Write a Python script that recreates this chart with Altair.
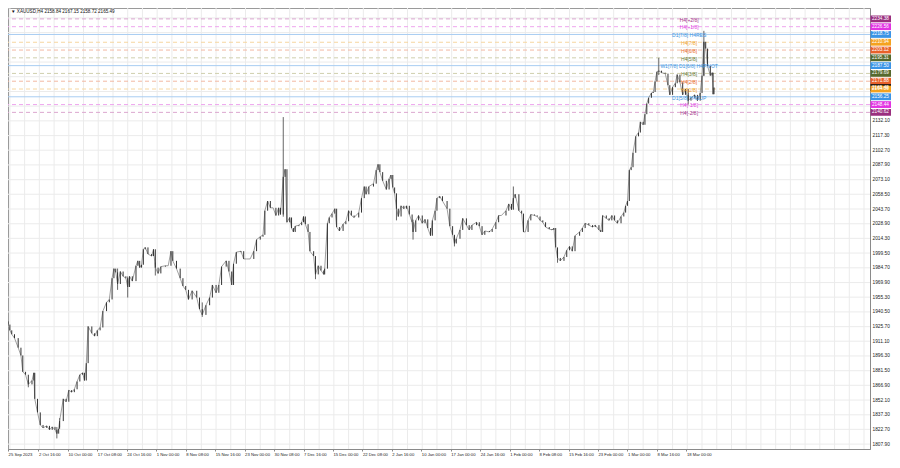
import json
import altair as alt
import pandas as pd

# ---------------- data ----------------
symbol = "XAUUSD,H4"
quote_ohlc = [2158.84, 2167.15, 2158.72, 2165.49]

# H4 bar index (0 = 25 Sep 2023 00:00) and close
bar = [1, 3, 5, 8, 12, 15, 17, 20, 23, 27, 29, 30, 33, 36, 39, 43, 46, 49, 52, 54, 56, 57,
       61, 64, 67, 70, 73, 76, 79, 82, 84, 86, 88, 92, 95, 98, 101, 104, 108, 111, 114, 116,
       118, 120, 123, 126, 129, 131, 133, 136, 140, 142, 144, 146, 148, 150, 153, 157, 159,
       161, 164, 167, 172, 175, 178, 180, 184, 188, 191, 194, 197, 201, 206, 209, 212, 216,
       220, 223, 227, 230, 233, 238, 241, 244, 246, 249, 254, 257, 260, 264, 268, 271, 275,
       278, 280, 283, 286, 289, 292, 295, 297, 300, 302, 304, 307, 309, 311, 313, 317, 320,
       322, 324, 327, 329, 333, 335, 338, 341, 344, 345, 348, 350, 353, 356, 358, 361, 365,
       368, 371, 374, 377, 382, 385, 388, 390, 393, 398, 401, 403, 405, 408, 412, 415, 417,
       419, 421, 423, 425, 428, 431, 434, 437, 440, 441, 444, 447, 451, 454, 457, 460, 462,
       465, 467, 470, 473, 478, 481, 484, 486, 488, 492, 495, 499, 502, 505, 510, 513, 516,
       519, 524, 527, 531, 534, 537, 542, 545, 548, 550, 552, 556, 559, 561, 563, 566, 569,
       573, 576, 579, 582, 585, 589, 592, 594, 596, 598, 601, 605, 608, 611, 614, 617, 622,
       625, 628, 632, 636, 639, 643, 645, 647, 651, 654, 657, 660, 663, 667, 670, 672, 674,
       676, 678, 680, 683, 686, 688, 691, 693, 695, 697, 700, 702, 704, 706, 708, 711, 715,
       718, 720, 723, 726, 728, 731, 734, 737, 740, 743, 747, 750, 753, 755, 757, 759, 761,
       764, 766, 767, 768]
close = [1927.8, 1922.0, 1918.1, 1914.2, 1904.6, 1896.8, 1880.4, 1877.5, 1867.8, 1871.7, 1879.4,
         1853.3, 1839.7, 1827.1, 1824.2, 1826.2, 1822.3, 1825.2, 1822.3, 1818.4, 1823.3, 1831.0,
         1853.3, 1850.4, 1862.0, 1860.0, 1862.9, 1870.7, 1877.5, 1879.4, 1871.7, 1889.1, 1925.9,
         1919.1, 1916.2, 1922.0, 1924.9, 1941.3, 1950.1, 1953.0, 1974.3, 1983.9, 1980.1, 1968.5,
         1981.0, 1976.2, 1974.3, 1965.5, 1976.2, 1971.4, 1986.8, 1991.7, 1984.9, 1987.8, 2003.3,
         2005.2, 1998.5, 1996.5, 2003.3, 1984.9, 1979.1, 1985.9, 1986.8, 1986.8, 2001.4, 1991.7,
         1983.9, 1974.3, 1966.5, 1962.6, 1953.0, 1961.7, 1954.9, 1943.3, 1937.5, 1947.2, 1954.9,
         1967.5, 1959.7, 1967.5, 1985.9, 1991.7, 1981.0, 1967.5, 1988.8, 2000.4, 2001.4, 1993.6,
         1993.6, 1993.6, 2001.4, 2013.0, 2015.9, 2017.8, 2042.0, 2051.7, 2044.9, 2044.9, 2037.2,
         2044.9, 2038.2, 2075.9, 2083.6, 2030.4, 2035.2, 2024.6, 2020.7, 2026.5, 2027.5, 2030.4,
         2036.2, 2028.5, 2020.7, 2001.4, 1996.5, 1978.1, 1986.8, 1982.0, 1978.1, 1983.9, 2029.4,
         2035.2, 2039.1, 2044.0, 2025.6, 2021.7, 2028.5, 2031.4, 2042.0, 2037.2, 2035.2, 2040.1,
         2054.6, 2066.2, 2058.5, 2066.2, 2069.1, 2082.7, 2088.5, 2080.7, 2072.0, 2063.3, 2074.0,
         2077.8, 2065.3, 2059.4, 2044.0, 2036.2, 2046.9, 2044.0, 2046.9, 2038.2, 2030.4, 2020.7,
         2032.3, 2037.2, 2029.4, 2033.3, 2024.6, 2016.9, 2032.3, 2042.0, 2054.6, 2056.5, 2051.7,
         2044.0, 2026.5, 2017.8, 2009.1, 2013.9, 2022.7, 2034.3, 2027.5, 2022.7, 2027.5, 2030.4,
         2026.5, 2017.8, 2021.7, 2020.7, 2023.6, 2030.4, 2037.2, 2037.2, 2042.0, 2048.8, 2043.0,
         2054.6, 2058.5, 2042.0, 2039.1, 2020.7, 2020.7, 2032.3, 2038.2, 2037.2, 2036.2, 2032.3,
         2030.4, 2025.6, 2023.6, 2022.7, 2024.6, 2005.2, 1994.6, 1991.7, 1995.6, 2002.3, 2006.2,
         2001.4, 2016.9, 2020.7, 2024.6, 2029.4, 2027.5, 2025.6, 2027.5, 2022.7, 2020.7, 2037.2,
         2034.3, 2032.3, 2037.2, 2032.3, 2029.4, 2036.2, 2040.1, 2046.9, 2051.7, 2082.7, 2085.6,
         2100.1, 2116.6, 2120.4, 2131.1, 2128.2, 2138.8, 2149.5, 2155.3, 2160.1, 2161.1, 2171.7,
         2181.4, 2182.4, 2180.4, 2179.5, 2167.9, 2158.2, 2165.9, 2169.8, 2178.5, 2170.8, 2158.2,
         2164.0, 2152.4, 2155.3, 2158.2, 2152.4, 2160.1, 2177.5, 2211.4, 2204.6, 2187.2, 2177.5,
         2180.4, 2158.84, 2165.49]
first_open = 1931.0

# visible long wicks
wick_bar = [23, 54, 57, 120, 131, 161, 212, 300, 335, 423, 441, 486, 550, 598, 708, 740, 757]
wick_low = [1864.9, 1813.6, 1825.0, 1962.6, 1954.9, 1977.0, 1935.5, 2036.0, 1973.3, 2032.3,
            2013.0, 2006.2, 2050.0, 1989.8, 2178.0, 2148.4, 2177.0]
wick_high = [1872.0, 1825.0, 1834.0, 1984.0, 1976.0, 1990.0, 1950.0, 2135.9, 1990.0, 2046.0,
             2033.0, 2017.0, 2066.3, 2000.0, 2195.3, 2158.0, 2222.4]

# time axis
first_label = "25 Sep 2023"
tick_bars = [34, 66, 98, 130, 162, 194, 226, 258, 290, 322, 354, 386, 418, 450, 482, 514,
             546, 578, 610, 642, 674, 706, 738]
tick_labels = ["2 Oct 16:00", "10 Oct 00:00", "17 Oct 08:00", "24 Oct 16:00", "1 Nov 00:00",
               "8 Nov 08:00", "15 Nov 16:00", "23 Nov 00:00", "30 Nov 08:00", "7 Dec 16:00",
               "15 Dec 00:00", "22 Dec 08:00", "2 Jan 16:00", "10 Jan 00:00", "17 Jan 00:00",
               "24 Jan 16:00", "1 Feb 00:00", "8 Feb 08:00", "15 Feb 16:00", "23 Feb 00:00",
               "1 Mar 00:00", "8 Mar 16:00", "18 Mar 00:00"]

# price axis
price_labels = [2132.10, 2117.30, 2102.70, 2087.90, 2073.10, 2058.50, 2043.70, 2028.90,
                2014.30, 1999.50, 1984.70, 1969.90, 1955.30, 1940.50, 1925.70, 1911.10,
                1896.30, 1881.50, 1866.90, 1852.10, 1837.30, 1822.70, 1807.90]
grid_extra = [2146.9, 2161.6, 2176.4, 2191.1, 2205.8, 2220.6, 2235.3]

# Murrey-math levels
level_price = [2234.38, 2226.56, 2218.75, 2210.94, 2203.12, 2195.31, 2187.50, 2179.69,
               2171.88, 2164.06, 2156.25, 2148.44, 2140.62]
level_name = ["H4[+2/8]", "H4[+1/8]", "D1[7/8] H4RES", "H4[7/8]", "H4[6/8]", "H4[5/8]",
              "W1[7/8] D1[6/8] H4PIVOT", "H4[3/8]", "H4[2/8]", "H4[1/8]", "D1[5/8] H4SUP",
              "H4[-1/8]", "H4[-2/8]"]
level_kind = ["dash", "dash", "solid", "dash", "dash", "dash", "solid", "dash", "dash",
              "dash", "solid", "dash", "dash"]
level_text_color = ["#a3338a", "#e03ee0", "#3d94e0", "#f0a12a", "#e8682c", "#64742f",
                    "#3d94e0", "#64742f", "#e8682c", "#f0a12a", "#3d94e0", "#e03ee0", "#a3338a"]
level_line_color = ["#dba6cf", "#eea6ee", "#a9cdf2", "#f6d6a0", "#f2b9a2", "#cfcfad",
                    "#a9cdf2", "#cfcfad", "#f2b9a2", "#f6d6a0", "#a9cdf2", "#eea6ee", "#dba6cf"]
level_box_color = ["#9a2f7f", "#e233e2", "#3b94e6", "#f5a21f", "#e8612a", "#55692d",
                   "#3b94e6", "#55692d", "#e8612a", "#f5a21f", "#3b94e6", "#e233e2", "#9a2f7f"]
current_price = 2165.49

# ---------------- frames ----------------
candles = pd.DataFrame({"bar": bar, "close": close})
candles["open"] = candles["close"].shift(1).fillna(first_open)
wicks = pd.DataFrame({"bar": wick_bar, "low": wick_low, "high": wick_high})

levels = pd.DataFrame({"p": level_price, "name": level_name, "kind": level_kind,
                       "tc": level_text_color, "lc": level_line_color, "bc": level_box_color})
levels["tb"] = 741
levels["txt"] = levels["p"].map(lambda v: f"{v:.2f}")
boxes = pd.concat([
    levels[["p", "bc", "txt"]].iloc[:9],
    pd.DataFrame({"p": [current_price], "bc": ["#000000"], "txt": [f"{current_price:.2f}"]}),
    levels[["p", "bc", "txt"]].iloc[9:],
], ignore_index=True)

grid_h = pd.DataFrame({"p": price_labels + grid_extra})
grid_v = pd.DataFrame({"b": [3 + 16 * k for k in range(59)]})
header = pd.DataFrame({"t": ["\u25bc " + symbol + "  " + " ".join(f"{v:.2f}" for v in quote_ohlc)]})

# ---------------- scales / axes ----------------
xs = alt.Scale(domain=[0.93, 937.5], nice=False, zero=False)
ys = alt.Scale(domain=[1803.0, 2245.3], nice=False, zero=False)
FONT = "Liberation Sans"

label_expr = ("datum.value < 10 ? '" + first_label + "' : " + json.dumps(tick_labels)
              + "[round((datum.value - 34) / 32)]")

XA = alt.Axis(values=[1] + tick_bars, labelExpr=label_expr, title=None, grid=False,
              labelAlign="left", labelBaseline="top", labelPadding=1.5, labelFontSize=4.2,
              labelFont=FONT, labelColor="#222", tickSize=2, tickColor="#888",
              domainColor="#8a8a8a", labelOverlap=False, labelFlush=False)
YA = alt.Axis(values=price_labels, format=".2f", orient="right", title=None, grid=False,
              labelFontSize=4.8, labelFont=FONT, labelColor="#222", labelPadding=2,
              ticks=False, domainColor="#8a8a8a", labelOverlap=False)


def X(field):
    return alt.X(field, scale=xs, axis=XA)


def Y(field):
    return alt.Y(field, scale=ys, axis=YA)


gh = alt.Chart(grid_h).mark_rule(color="#ebebeb", strokeWidth=1).encode(y=Y("p:Q"))
gv = alt.Chart(grid_v).mark_rule(color="#ebebeb", strokeWidth=1).encode(x=X("b:Q"))

lv_dash = alt.Chart(levels).transform_filter("datum.kind == 'dash'").mark_rule(
    strokeWidth=1, strokeDash=[4, 3]).encode(
    y=Y("p:Q"), color=alt.Color("lc:N", scale=None))
lv_solid = alt.Chart(levels).transform_filter("datum.kind == 'solid'").mark_rule(
    strokeWidth=1).encode(y=Y("p:Q"), color=alt.Color("lc:N", scale=None))

wick_layer = alt.Chart(wicks).mark_rule(color="#555", strokeWidth=0.9).encode(
    x=X("bar:Q"), y=Y("low:Q"), y2="high:Q")
path = alt.Chart(candles).mark_line(color="#777", strokeWidth=0.7).encode(
    x=X("bar:Q"), y=Y("close:Q"))
bodies = alt.Chart(candles).mark_rule(color="#333", strokeWidth=1.0).encode(
    x=X("bar:Q"), y=Y("open:Q"), y2="close:Q")

lv_text = alt.Chart(levels).mark_text(fontSize=5, font=FONT, align="center",
                                      baseline="middle", dy=0.8).encode(
    x=X("tb:Q"), y=Y("p:Q"), color=alt.Color("tc:N", scale=None), text="name:N")

box_rect = alt.Chart(boxes).transform_calculate(
    top="datum.p + 3.4", bot="datum.p - 3.4").mark_rect().encode(
    x=alt.value(862.5), x2=alt.value(883),
    y=Y("top:Q"), y2="bot:Q",
    color=alt.Color("bc:N", scale=None))
box_text = alt.Chart(boxes).mark_text(fontSize=4.7, font=FONT, align="left",
                                      baseline="middle", color="white").encode(
    x=alt.value(864), y=Y("p:Q"), text="txt:N")

head = alt.Chart(header).mark_text(fontSize=4.6, font=FONT, align="left",
                                   baseline="middle", color="#111").encode(
    x=alt.value(3), y=alt.value(4), text="t:N")

chart = alt.layer(
    gh, gv, lv_dash, lv_solid, wick_layer, path, bodies, lv_text, box_rect, box_text, head
).properties(
    width=862, height=441,
    autosize=alt.AutoSizeParams(type="none"),
    padding={"left": 0, "top": 0, "right": 22, "bottom": 12},
    background="white",
).configure_view(stroke="#9a9a9a", strokeWidth=1)

chart.save("out.html", embed_options={"renderer": "svg", "actions": False})
